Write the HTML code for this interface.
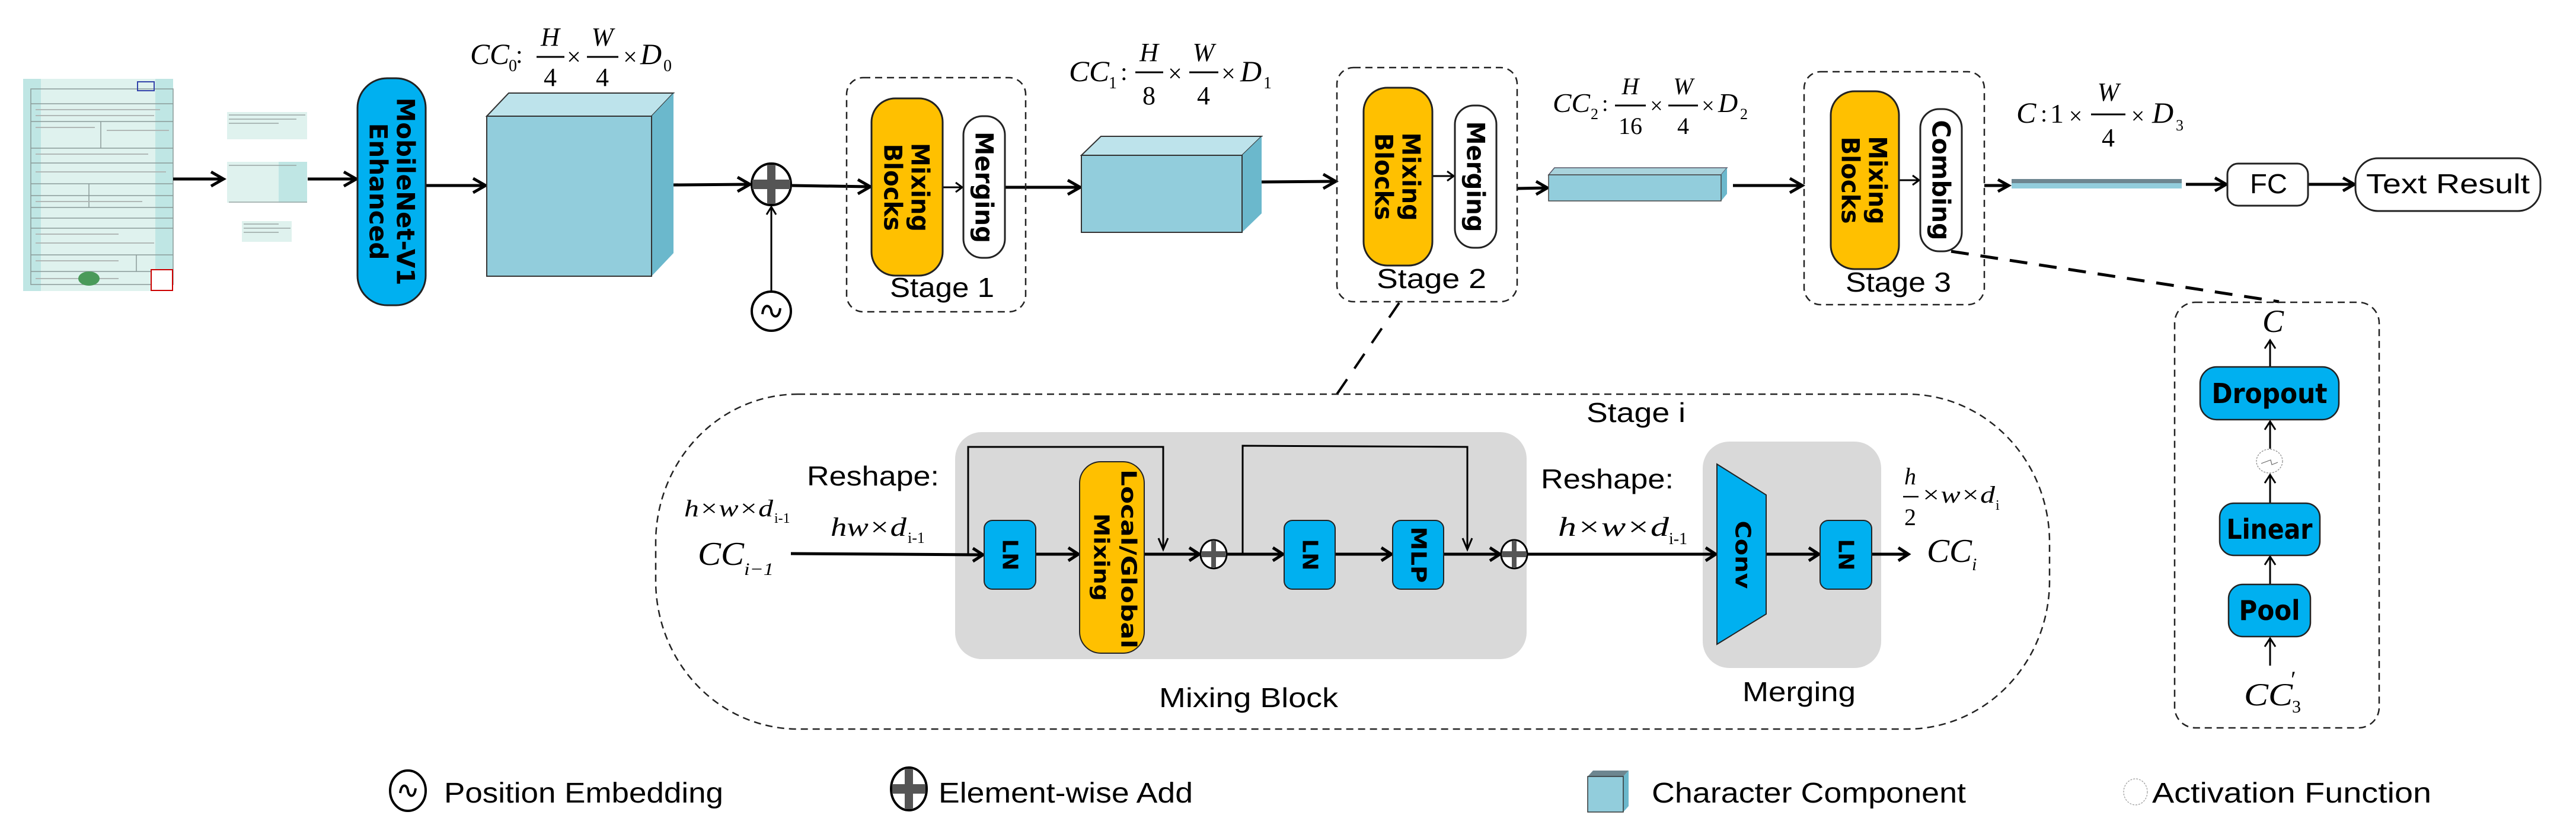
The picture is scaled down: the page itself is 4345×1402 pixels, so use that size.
<!DOCTYPE html>
<html><head><meta charset="utf-8"><style>
html,body{margin:0;padding:0;background:#fff;}
svg{display:block;}
.n{font-family:"Liberation Sans",sans-serif;}
.m{font-family:"Liberation Serif",serif;font-style:italic;}
.b{font-family:"DejaVu Sans",sans-serif;font-weight:bold;}
</style></head><body>
<svg width="4345" height="1402" viewBox="0 0 4345 1402" xmlns="http://www.w3.org/2000/svg">
<style>
.ar{stroke:#000;stroke-width:5;fill:none;}
.th{stroke:#000;stroke-width:3;fill:none;}
.dash{stroke:#222;stroke-width:2.5;fill:none;stroke-dasharray:12 8;}
</style>

<!-- document image -->
<rect x="39" y="133" width="253" height="358" fill="#dff2ee"/>
<rect x="39" y="133" width="30" height="358" fill="#bfe6e4"/>
<rect x="262" y="133" width="30" height="358" fill="#bfe6e4"/>
<g stroke="#8a9a98" stroke-width="1.5">
<rect x="52" y="150" width="240" height="330" fill="none"/>
<line x1="52" y1="175" x2="292" y2="175"/><line x1="52" y1="205" x2="292" y2="205"/>
<line x1="52" y1="250" x2="292" y2="250"/><line x1="52" y1="275" x2="292" y2="275"/>
<line x1="52" y1="310" x2="292" y2="310"/><line x1="52" y1="330" x2="292" y2="330"/>
<line x1="52" y1="350" x2="292" y2="350"/><line x1="52" y1="368" x2="292" y2="368"/>
<line x1="52" y1="385" x2="292" y2="385"/><line x1="52" y1="430" x2="292" y2="430"/>
<line x1="52" y1="458" x2="292" y2="458"/><line x1="170" y1="205" x2="170" y2="250"/>
<line x1="150" y1="310" x2="150" y2="350"/><line x1="230" y1="430" x2="230" y2="458"/>
</g>
<g stroke="#b0b8b6" stroke-width="2">
<line x1="60" y1="185" x2="270" y2="185"/><line x1="60" y1="195" x2="260" y2="195"/>
<line x1="60" y1="215" x2="160" y2="215"/><line x1="180" y1="220" x2="285" y2="220"/>
<line x1="60" y1="260" x2="250" y2="260"/><line x1="60" y1="290" x2="280" y2="290"/>
<line x1="60" y1="340" x2="240" y2="340"/><line x1="60" y1="395" x2="200" y2="395"/>
<line x1="60" y1="410" x2="260" y2="410"/><line x1="60" y1="440" x2="200" y2="440"/>
<line x1="60" y1="470" x2="200" y2="470"/>
</g>
<rect x="232" y="138" width="28" height="15" fill="none" stroke="#3344aa" stroke-width="2"/>
<ellipse cx="150" cy="470" rx="18" ry="12" fill="#4a9a5a"/>
<rect x="255" y="455" width="36" height="35" fill="#fff" stroke="#c00" stroke-width="2"/>
<rect x="383" y="189" width="135" height="46" fill="#dff2ee"/>
<rect x="383" y="273" width="135" height="69" fill="#dff2ee"/>
<rect x="470" y="273" width="48" height="69" fill="#bfe6e4"/>
<rect x="408" y="373" width="84" height="35" fill="#dff2ee"/>
<g stroke="#9aa5a3" stroke-width="1.5">
<line x1="386" y1="194" x2="515" y2="194"/><line x1="386" y1="201" x2="500" y2="201"/><line x1="386" y1="208" x2="470" y2="208"/>
<line x1="386" y1="279" x2="500" y2="279"/><line x1="386" y1="341" x2="518" y2="341"/>
<line x1="411" y1="378" x2="470" y2="378"/><line x1="411" y1="385" x2="490" y2="385"/><line x1="411" y1="392" x2="470" y2="392"/>
</g>

<!-- top row arrows -->
<g class="ar">
<line x1="292" y1="302" x2="376" y2="302"/><polyline points="356,290 377,302 356,314"/>
<line x1="519" y1="302" x2="600" y2="302"/><polyline points="580,290 601,302 580,314"/>
<line x1="718" y1="313" x2="818" y2="313"/><polyline points="798,301 819,313 798,325"/>
<line x1="1136" y1="312" x2="1264" y2="311"/><polyline points="1244,299 1265,311 1244,323"/>
<line x1="1336" y1="313" x2="1467" y2="315"/><polyline points="1447,303 1468,315 1447,327"/>
<line x1="1695" y1="316" x2="1821" y2="316"/><polyline points="1801,304 1822,316 1801,328"/>
<line x1="2128" y1="307" x2="2252" y2="306"/><polyline points="2232,294 2253,306 2232,318"/>
<line x1="2559" y1="318" x2="2609" y2="317"/><polyline points="2591,306 2610,317 2591,328"/>
<line x1="2923" y1="313" x2="3039" y2="313"/><polyline points="3019,301 3040,313 3019,325"/>
<line x1="3347" y1="313" x2="3386" y2="313"/><polyline points="3370,303 3388,313 3370,323"/>
<line x1="3687" y1="311" x2="3754" y2="311"/><polyline points="3736,300 3755,311 3736,322"/>
<line x1="3893" y1="311" x2="3970" y2="311"/><polyline points="3952,300 3971,311 3952,322"/>
</g>
<g class="th">
<line x1="1590" y1="316" x2="1622" y2="316"/><polyline points="1612,308 1623,316 1612,324"/>
<line x1="2416" y1="297" x2="2451" y2="297"/><polyline points="2441,289 2452,297 2441,305"/>
<line x1="3203" y1="304" x2="3236" y2="304"/><polyline points="3226,296 3237,304 3226,312"/>
<line x1="1301" y1="492" x2="1301" y2="350"/><polyline points="1293,362 1301,349 1309,362"/>
</g>

<!-- MobileNet pill -->
<rect x="603" y="132" width="115" height="383" rx="50" fill="#00b0f0" stroke="#222" stroke-width="3"/>
<g class="b" font-size="42" text-anchor="middle" dominant-baseline="central">
<text transform="translate(660,323) rotate(90)" y="-24" textLength="317" lengthAdjust="spacingAndGlyphs">MobileNet-V1</text>
<text transform="translate(660,323) rotate(90)" y="22" textLength="231" lengthAdjust="spacingAndGlyphs">Enhanced</text>
</g>

<!-- cube 0 -->
<polygon points="821,196 858,157 1136,157 1099,196" fill="#bde3eb" stroke="#333" stroke-width="2"/>
<polygon points="1099,196 1136,157 1136,427 1099,466" fill="#6bb8cc"/>
<rect x="821" y="196" width="278" height="270" fill="#92cddc" stroke="#333" stroke-width="2"/>
<!-- cube 1 -->
<polygon points="1824,262 1857,230 2128,230 2095,262" fill="#bde3eb" stroke="#333" stroke-width="2"/>
<polygon points="2095,262 2128,230 2128,360 2095,392" fill="#6bb8cc"/>
<rect x="1824" y="262" width="271" height="130" fill="#92cddc" stroke="#333" stroke-width="2"/>
<!-- cube 2 -->
<polygon points="2612,295 2622,283 2913,283 2903,295" fill="#a9d3dc" stroke="#556" stroke-width="1.5"/>
<polygon points="2903,295 2913,283 2913,327 2903,339" fill="#6bb8cc"/>
<rect x="2612" y="295" width="291" height="44" fill="#92cddc" stroke="#444" stroke-width="1.5"/>
<!-- bar -->
<rect x="3393" y="302" width="287" height="7" fill="#6d8690"/>
<rect x="3393" y="309" width="287" height="9" fill="#92cddc"/>

<!-- plus circle -->
<ellipse cx="1301" cy="311" rx="33" ry="35" fill="#fff" stroke="#000" stroke-width="4"/>
<rect x="1269" y="303" width="64" height="16" fill="#555"/>
<rect x="1294" y="278" width="14" height="66" fill="#555"/>
<!-- position embedding -->
<ellipse cx="1301" cy="525" rx="33" ry="33" fill="#fff" stroke="#000" stroke-width="4"/>
<path d="M1286,530 C1288,510 1300,515 1301,525 C1302,535 1314,540 1316,520" stroke="#000" stroke-width="4" fill="none"/>

<!-- stage boxes -->
<rect x="1428" y="131" width="302" height="395" rx="28" class="dash"/>
<rect x="2255" y="114" width="304" height="395" rx="28" class="dash"/>
<rect x="3043" y="121" width="304" height="393" rx="28" class="dash"/>

<rect x="1470" y="166" width="120" height="299" rx="40" fill="#ffc000" stroke="#222" stroke-width="3"/>
<rect x="1625" y="196" width="70" height="239" rx="32" fill="#fff" stroke="#222" stroke-width="3"/>
<rect x="2300" y="148" width="116" height="300" rx="40" fill="#ffc000" stroke="#222" stroke-width="3"/>
<rect x="2454" y="178" width="70" height="240" rx="32" fill="#fff" stroke="#222" stroke-width="3"/>
<rect x="3088" y="154" width="115" height="300" rx="40" fill="#ffc000" stroke="#222" stroke-width="3"/>
<rect x="3239" y="184" width="70" height="240" rx="32" fill="#fff" stroke="#222" stroke-width="3"/>

<g class="b" font-size="42" text-anchor="middle" dominant-baseline="central">
<text transform="translate(1530,316) rotate(90)" y="-22" textLength="150" lengthAdjust="spacingAndGlyphs">Mixing</text>
<text transform="translate(1530,316) rotate(90)" y="24" textLength="147" lengthAdjust="spacingAndGlyphs">Blocks</text>
<text transform="translate(1660,316) rotate(90)" y="0" textLength="188" lengthAdjust="spacingAndGlyphs">Merging</text>
<text transform="translate(2358,298) rotate(90)" y="-22" textLength="149" lengthAdjust="spacingAndGlyphs">Mixing</text>
<text transform="translate(2358,298) rotate(90)" y="24" textLength="147" lengthAdjust="spacingAndGlyphs">Blocks</text>
<text transform="translate(2489,298) rotate(90)" y="0" textLength="187" lengthAdjust="spacingAndGlyphs">Merging</text>
<text transform="translate(3145,304) rotate(90)" y="-22" textLength="149" lengthAdjust="spacingAndGlyphs">Mixing</text>
<text transform="translate(3145,304) rotate(90)" y="24" textLength="147" lengthAdjust="spacingAndGlyphs">Blocks</text>
<text transform="translate(3274,304) rotate(90)" y="0" textLength="203" lengthAdjust="spacingAndGlyphs">Combing</text>
</g>

<g class="n" font-size="46">
<text x="1501" y="501" textLength="176" lengthAdjust="spacingAndGlyphs">Stage 1</text>
<text x="2322" y="486" textLength="185" lengthAdjust="spacingAndGlyphs">Stage 2</text>
<text x="3113" y="492" textLength="178" lengthAdjust="spacingAndGlyphs">Stage 3</text>
</g>

<rect x="3757" y="276" width="136" height="71" rx="18" fill="#fff" stroke="#222" stroke-width="3"/>
<rect x="3973" y="267" width="312" height="89" rx="38" fill="#fff" stroke="#222" stroke-width="3"/>
<g class="n" font-size="46">
<text x="3795" y="326" textLength="63" lengthAdjust="spacingAndGlyphs">FC</text>
<text x="3991" y="326" textLength="276" lengthAdjust="spacingAndGlyphs">Text Result</text>
</g>

<!-- math labels -->
<g class="m" fill="#000">
<text x="793" y="108" font-size="50" textLength="66" lengthAdjust="spacingAndGlyphs">CC</text>
<text x="858" y="120" font-size="28" font-style="normal">0</text>
<text x="870" y="106" font-size="42" font-style="normal">:</text>
<line x1="905" y1="96" x2="952" y2="96" stroke="#000" stroke-width="3"/>
<text x="928" y="77" font-size="44" text-anchor="middle">H</text>
<text x="928" y="145" font-size="44" text-anchor="middle" font-style="normal">4</text>
<text x="968" y="110" font-size="42" text-anchor="middle" font-style="normal">×</text>
<line x1="990" y1="96" x2="1043" y2="96" stroke="#000" stroke-width="3"/>
<text x="1016" y="77" font-size="44" text-anchor="middle">W</text>
<text x="1016" y="145" font-size="44" text-anchor="middle" font-style="normal">4</text>
<text x="1063" y="110" font-size="42" text-anchor="middle" font-style="normal">×</text>
<text x="1080" y="108" font-size="50">D</text>
<text x="1119" y="120" font-size="28" font-style="normal">0</text>

<text x="1803" y="137" font-size="50" textLength="68" lengthAdjust="spacingAndGlyphs">CC</text>
<text x="1870" y="149" font-size="28" font-style="normal">1</text>
<text x="1890" y="135" font-size="42" font-style="normal">:</text>
<line x1="1915" y1="122" x2="1962" y2="122" stroke="#000" stroke-width="3"/>
<text x="1938" y="103" font-size="44" text-anchor="middle">H</text>
<text x="1938" y="176" font-size="44" text-anchor="middle" font-style="normal">8</text>
<text x="1982" y="138" font-size="42" text-anchor="middle" font-style="normal">×</text>
<line x1="2006" y1="122" x2="2055" y2="122" stroke="#000" stroke-width="3"/>
<text x="2030" y="103" font-size="44" text-anchor="middle">W</text>
<text x="2030" y="176" font-size="44" text-anchor="middle" font-style="normal">4</text>
<text x="2072" y="138" font-size="42" text-anchor="middle" font-style="normal">×</text>
<text x="2092" y="137" font-size="50">D</text>
<text x="2131" y="149" font-size="28" font-style="normal">1</text>

<text x="2619" y="189" font-size="46" textLength="63" lengthAdjust="spacingAndGlyphs">CC</text>
<text x="2683" y="201" font-size="26" font-style="normal">2</text>
<text x="2702" y="187" font-size="38" font-style="normal">:</text>
<line x1="2724" y1="178" x2="2776" y2="178" stroke="#000" stroke-width="3"/>
<text x="2750" y="159" font-size="40" text-anchor="middle">H</text>
<text x="2750" y="226" font-size="40" text-anchor="middle" font-style="normal">16</text>
<text x="2794" y="191" font-size="38" text-anchor="middle" font-style="normal">×</text>
<line x1="2814" y1="178" x2="2864" y2="178" stroke="#000" stroke-width="3"/>
<text x="2839" y="159" font-size="40" text-anchor="middle">W</text>
<text x="2839" y="226" font-size="40" text-anchor="middle" font-style="normal">4</text>
<text x="2881" y="191" font-size="38" text-anchor="middle" font-style="normal">×</text>
<text x="2898" y="189" font-size="46">D</text>
<text x="2935" y="201" font-size="26" font-style="normal">2</text>

<text x="3401" y="207" font-size="50">C</text>
<text x="3442" y="205" font-size="40" font-style="normal">:</text>
<text x="3458" y="207" font-size="46" font-style="normal">1</text>
<text x="3501" y="209" font-size="40" text-anchor="middle" font-style="normal">×</text>
<line x1="3527" y1="193" x2="3585" y2="193" stroke="#000" stroke-width="3"/>
<text x="3556" y="170" font-size="44" text-anchor="middle">W</text>
<text x="3556" y="247" font-size="44" text-anchor="middle" font-style="normal">4</text>
<text x="3606" y="209" font-size="40" text-anchor="middle" font-style="normal">×</text>
<text x="3630" y="207" font-size="50">D</text>
<text x="3670" y="220" font-size="26" font-style="normal">3</text>
</g>

<!-- dashed connectors -->
<line x1="2360" y1="511" x2="2255" y2="665" stroke="#000" stroke-width="4" stroke-dasharray="30 22"/>
<line x1="3291" y1="424" x2="3844" y2="509" stroke="#000" stroke-width="5" stroke-dasharray="30 20"/>

<!-- Stage i -->
<rect x="1106" y="665" width="2351" height="565" rx="240" ry="250" class="dash"/>
<rect x="1611" y="729" width="964" height="383" rx="45" fill="#d9d9d9"/>
<rect x="2872" y="745" width="301" height="382" rx="45" fill="#d9d9d9"/>
<g class="n" font-size="46">
<text x="2676" y="712" textLength="167" lengthAdjust="spacingAndGlyphs">Stage i</text>
<text x="1361" y="819" textLength="223" lengthAdjust="spacingAndGlyphs">Reshape:</text>
<text x="2599" y="824" textLength="224" lengthAdjust="spacingAndGlyphs">Reshape:</text>
<text x="1955" y="1193" textLength="302" lengthAdjust="spacingAndGlyphs">Mixing Block</text>
<text x="2939" y="1183" textLength="191" lengthAdjust="spacingAndGlyphs">Merging</text>
</g>

<g class="th" stroke-width="3.5">
<polyline points="1633,935 1633,754 1962,754 1962,925"/>
<polyline points="1954,908 1962,927 1970,908"/>
<polyline points="2096,935 2096,752 2475,754 2475,925"/>
<polyline points="2467,908 2475,927 2483,908"/>
</g>
<g class="ar">
<line x1="1334" y1="934" x2="1657" y2="936"/><polyline points="1641,925 1658,936 1641,947"/>
<line x1="1747" y1="935" x2="1818" y2="935"/><polyline points="1802,924 1819,935 1802,946"/>
<line x1="1930" y1="935" x2="2022" y2="935"/><polyline points="2006,924 2023,935 2006,946"/>
<line x1="2070" y1="935" x2="2163" y2="935"/><polyline points="2147,924 2164,935 2147,946"/>
<line x1="2252" y1="935" x2="2346" y2="935"/><polyline points="2330,924 2347,935 2330,946"/>
<line x1="2435" y1="935" x2="2529" y2="935"/><polyline points="2513,924 2530,935 2513,946"/>
<line x1="2577" y1="935" x2="2893" y2="935"/><polyline points="2877,924 2894,935 2877,946"/>
<line x1="2979" y1="935" x2="3067" y2="935"/><polyline points="3051,924 3068,935 3051,946"/>
<line x1="3157" y1="935" x2="3218" y2="935"/><polyline points="3202,924 3219,935 3202,946"/>
</g>

<rect x="1660" y="878" width="87" height="116" rx="14" fill="#00b0f0" stroke="#222" stroke-width="2"/>
<rect x="1821" y="779" width="109" height="323" rx="36" fill="#ffc000" stroke="#222" stroke-width="2"/>
<rect x="2166" y="878" width="86" height="116" rx="14" fill="#00b0f0" stroke="#222" stroke-width="2"/>
<rect x="2349" y="878" width="86" height="116" rx="14" fill="#00b0f0" stroke="#222" stroke-width="2"/>
<rect x="3070" y="878" width="87" height="116" rx="14" fill="#00b0f0" stroke="#222" stroke-width="2"/>
<polygon points="2896,783 2979,835 2979,1036 2896,1087" fill="#00b0f0" stroke="#222" stroke-width="2"/>
<ellipse cx="2047" cy="935" rx="22" ry="24" fill="#fff" stroke="#000" stroke-width="3"/>
<rect x="2027" y="930" width="40" height="10" fill="#555"/><rect x="2043" y="913" width="8" height="44" fill="#555"/>
<ellipse cx="2554" cy="935" rx="22" ry="24" fill="#fff" stroke="#000" stroke-width="3"/>
<rect x="2534" y="930" width="40" height="10" fill="#555"/><rect x="2550" y="913" width="8" height="44" fill="#555"/>
<g class="b" font-size="36" text-anchor="middle" dominant-baseline="central">
<text transform="translate(1703,936) rotate(90)">LN</text>
<text transform="translate(2209,936) rotate(90)">LN</text>
<text transform="translate(3113,936) rotate(90)">LN</text>
<text transform="translate(2392,936) rotate(90)" textLength="95" lengthAdjust="spacingAndGlyphs">MLP</text>
<text transform="translate(2939,936) rotate(90)" textLength="115" lengthAdjust="spacingAndGlyphs">Conv</text>
<text transform="translate(1877,943) rotate(90)" y="-26" textLength="302" lengthAdjust="spacingAndGlyphs">Local/Global</text>
<text transform="translate(1877,940) rotate(90)" y="20" textLength="148" lengthAdjust="spacingAndGlyphs">Mixing</text>
</g>

<g class="m" fill="#000">
<text x="1154" y="871" font-size="40" textLength="150" lengthAdjust="spacingAndGlyphs">h×w×d</text>
<text x="1306" y="882" font-size="24" font-style="normal">i-1</text>
<text x="1177" y="953" font-size="56" textLength="78" lengthAdjust="spacingAndGlyphs">CC</text>
<text x="1255" y="970" font-size="30" textLength="50" lengthAdjust="spacingAndGlyphs">i−1</text>
<text x="1401" y="904" font-size="44" textLength="128" lengthAdjust="spacingAndGlyphs">hw×d</text>
<text x="1531" y="916" font-size="26" font-style="normal">i-1</text>
<text x="2628" y="904" font-size="46" textLength="187" lengthAdjust="spacingAndGlyphs">h×w×d</text>
<text x="2815" y="918" font-size="28" font-style="normal">i-1</text>
<text x="3212" y="817" font-size="40">h</text>
<line x1="3210" y1="838" x2="3236" y2="838" stroke="#000" stroke-width="2.5"/>
<text x="3212" y="886" font-size="40" font-style="normal">2</text>
<text x="3240" y="848" font-size="40" textLength="125" lengthAdjust="spacingAndGlyphs">×w×d</text>
<text x="3366" y="860" font-size="24" font-style="normal">i</text>
<text x="3250" y="948" font-size="56" textLength="76" lengthAdjust="spacingAndGlyphs">CC</text>
<text x="3326" y="962" font-size="30">i</text>
</g>

<!-- right detail box -->
<rect x="3668" y="510" width="345" height="718" rx="35" class="dash"/>
<g class="th" stroke-width="4">
<line x1="3829" y1="618" x2="3829" y2="575"/><polyline points="3820,588 3829,574 3838,588"/>
<line x1="3829" y1="757" x2="3829" y2="712"/><polyline points="3820,725 3829,711 3838,725"/>
<line x1="3829" y1="849" x2="3829" y2="802"/><polyline points="3820,815 3829,801 3838,815"/>
<line x1="3829" y1="986" x2="3829" y2="940"/><polyline points="3820,953 3829,939 3838,953"/>
<line x1="3829" y1="1123" x2="3829" y2="1078"/><polyline points="3820,1091 3829,1077 3838,1091"/>
</g>
<rect x="3711" y="619" width="234" height="89" rx="28" fill="#00b0f0" stroke="#222" stroke-width="2.5"/>
<rect x="3744" y="849" width="169" height="88" rx="24" fill="#00b0f0" stroke="#222" stroke-width="2.5"/>
<rect x="3759" y="986" width="138" height="88" rx="24" fill="#00b0f0" stroke="#222" stroke-width="2.5"/>
<ellipse cx="3828" cy="778" rx="22" ry="20" fill="#fff" stroke="#888" stroke-width="1.2" stroke-dasharray="3 2"/>
<polyline points="3814,782 3830,776 3832,784 3842,780" stroke="#666" stroke-width="1.2" fill="none"/>
<g class="b" font-size="46" text-anchor="middle" dominant-baseline="central">
<text x="3828" y="664" textLength="195" lengthAdjust="spacingAndGlyphs">Dropout</text>
<text x="3828" y="893" textLength="145" lengthAdjust="spacingAndGlyphs">Linear</text>
<text x="3828" y="1030" textLength="103" lengthAdjust="spacingAndGlyphs">Pool</text>
</g>
<g class="m">
<text x="3834" y="560" font-size="54" text-anchor="middle">C</text>
<text x="3785" y="1190" font-size="54" textLength="82" lengthAdjust="spacingAndGlyphs">CC</text>
<text x="3866" y="1202" font-size="30" font-style="normal">3</text>
<text x="3864" y="1160" font-size="40" font-style="normal">′</text>
</g>

<!-- legend -->
<ellipse cx="688" cy="1334" rx="30" ry="34" fill="#fff" stroke="#000" stroke-width="4"/>
<path d="M675,1338 C677,1320 687,1324 688,1334 C689,1344 699,1348 701,1330" stroke="#000" stroke-width="4" fill="none"/>
<ellipse cx="1533" cy="1331" rx="30" ry="36" fill="#fff" stroke="#000" stroke-width="4"/>
<rect x="1505" y="1323" width="56" height="16" fill="#555"/><rect x="1526" y="1297" width="14" height="68" fill="#555"/>
<polygon points="2678,1310 2687,1300 2747,1300 2738,1310" fill="#6d8690"/>
<polygon points="2738,1310 2747,1300 2747,1360 2738,1370" fill="#6bb8cc"/>
<rect x="2678" y="1310" width="60" height="60" fill="#92cddc" stroke="#333" stroke-width="1.5"/>
<ellipse cx="3602" cy="1336" rx="20" ry="22" fill="#fff" stroke="#999" stroke-width="1.2" stroke-dasharray="3 2"/>
<g class="n" font-size="48">
<text x="749" y="1354" textLength="471" lengthAdjust="spacingAndGlyphs">Position Embedding</text>
<text x="1583" y="1354" textLength="429" lengthAdjust="spacingAndGlyphs">Element-wise Add</text>
<text x="2786" y="1354" textLength="530" lengthAdjust="spacingAndGlyphs">Character Component</text>
<text x="3630" y="1354" textLength="471" lengthAdjust="spacingAndGlyphs">Activation Function</text>
</g>
</svg>
</body></html>
